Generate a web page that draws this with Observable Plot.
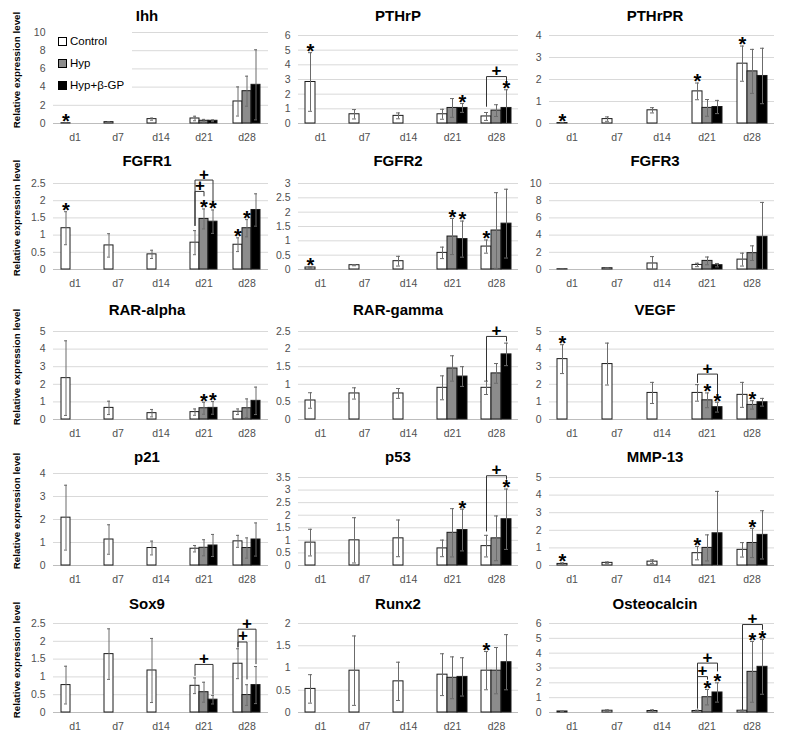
<!DOCTYPE html>
<html><head><meta charset="utf-8">
<script src="https://cdn.jsdelivr.net/npm/d3@7"></script>
<script src="https://cdn.jsdelivr.net/npm/@observablehq/plot@0.6"></script>
<style>
 body{margin:0;background:#fff;}
 #root{position:relative;width:786px;height:742px;overflow:hidden;background:#fff;font-family:"Liberation Sans",Arial,sans-serif;}
 .title{position:absolute;transform:translate(-50%,-50%);font-weight:bold;font-size:15px;white-space:nowrap;color:#000;}
 .ylab{position:absolute;transform:translate(-50%,-50%) rotate(-90deg);font-weight:bold;font-size:9.8px;white-space:nowrap;color:#000;}
 .legend{position:absolute;background:#fff;}
 .legend div{position:absolute;white-space:nowrap;font-size:11.5px;color:#000;}
 .legend span{display:inline-block;width:7px;height:7px;border:1px solid #000;margin-right:3px;vertical-align:-1px;}
</style></head><body><div id="root"></div>
<script>
// ---------------- data ----------------
const genes = ["Ihh","PTHrP","PTHrPR","FGFR1","FGFR2","FGFR3","RAR-alpha","RAR-gamma","VEGF","p21","p53","MMP-13","Sox9","Runx2","Osteocalcin"];
const days = ["d1","d7","d14","d21","d28"];
const lateDays = ["d21","d28"];
const groups = ["Control","Hyp","Hyp+β-GP"];
const groupColors = ["#ffffff","#8c8c8c","#000000"];
const yMax  = [10,6,4, 2.5,3,10, 5,2.5,5, 4,3.5,5, 2.5,2,6];
const yStep = [2,1,1, 0.5,0.5,2, 1,0.5,1, 1,0.5,1, 0.5,0.5,1];

// Control: d1, d7, d14, d21, d28
const controlMean = [
 [0.03,0.15,0.48,0.55,2.42],
 [2.83,0.63,0.52,0.63,0.48],
 [0.02,0.2,0.6,1.46,2.72],
 [1.2,0.7,0.44,0.78,0.72],
 [0.07,0.15,0.29,0.58,0.8],
 [0.03,0.15,0.7,0.53,1.15],
 [2.35,0.66,0.36,0.42,0.44],
 [0.54,0.74,0.74,0.9,0.9],
 [3.43,3.15,1.51,1.51,1.4],
 [2.08,1.13,0.76,0.73,1.05],
 [0.91,1.0,1.08,0.68,0.77],
 [0.09,0.15,0.22,0.7,0.89],
 [0.77,1.64,1.18,0.75,1.37],
 [0.53,0.94,0.7,0.85,0.94],
 [0.07,0.12,0.1,0.1,0.12]
];
const controlSD = [
 [0.02,0.04,0.12,0.25,1.6],
 [2.0,0.32,0.2,0.34,0.27],
 [0.01,0.1,0.12,0.38,0.8],
 [0.48,0.34,0.12,0.35,0.2],
 [0.02,0.02,0.17,0.2,0.23],
 [0.01,0.03,0.8,0.2,0.75],
 [2.12,0.38,0.21,0.18,0.16],
 [0.22,0.16,0.14,0.34,0.19],
 [0.82,1.19,0.6,0.47,0.71],
 [1.41,0.64,0.3,0.14,0.26],
 [0.53,0.9,0.73,0.33,0.43],
 [0.06,0.05,0.1,0.38,0.41],
 [0.53,0.71,0.9,0.22,0.42],
 [0.32,0.78,0.43,0.47,0.43],
 [0.02,0.06,0.08,0.06,0.03]
];
// Hyp: d21, d28
const hypMean = [[0.3,3.55],[1.06,0.88],[0.71,2.37],[1.47,1.2],[1.15,1.36],[1.0,1.9],[0.64,0.64],[1.45,1.31],[1.09,0.83],[0.77,0.76],[1.3,1.08],[1.0,1.28],[0.57,0.49],[0.78,0.94],[1.03,2.74]];
const hypSD   = [[0.15,1.65],[0.64,0.4],[0.38,1.0],[0.29,0.25],[0.63,1.32],[0.45,0.85],[0.34,0.53],[0.36,0.28],[0.42,0.24],[0.35,0.44],[0.96,0.89],[0.74,0.83],[0.28,0.29],[0.47,0.52],[0.52,2.05]];
// Hyp+β-GP: d21, d28
const hypGPMean = [[0.3,4.25],[1.06,1.06],[0.75,2.16],[1.39,1.73],[1.06,1.6],[0.5,3.8],[0.66,1.06],[1.22,1.85],[0.7,0.98],[0.87,1.13],[1.41,1.84],[1.83,1.74],[0.36,0.77],[0.8,1.13],[1.35,3.08]];
const hypGPSD   = [[0.1,3.85],[0.3,1.24],[0.3,1.26],[0.34,0.47],[0.63,1.2],[0.2,4.0],[0.36,0.78],[0.28,0.32],[0.28,0.22],[0.48,0.72],[0.83,1.2],[2.38,1.37],[0.12,0.52],[0.43,0.62],[0.65,1.85]];

// significance asterisks: gene, day, group
const stars = [
 ["Ihh","d1","Control"],
 ["PTHrP","d1","Control"],["PTHrP","d21","Hyp+β-GP"],["PTHrP","d28","Hyp+β-GP"],
 ["PTHrPR","d1","Control"],["PTHrPR","d21","Control"],["PTHrPR","d28","Control"],
 ["FGFR1","d1","Control"],["FGFR1","d21","Hyp"],["FGFR1","d21","Hyp+β-GP"],["FGFR1","d28","Control"],["FGFR1","d28","Hyp"],
 ["FGFR2","d1","Control"],["FGFR2","d21","Hyp"],["FGFR2","d21","Hyp+β-GP"],["FGFR2","d28","Control"],
 ["RAR-alpha","d21","Hyp"],["RAR-alpha","d21","Hyp+β-GP"],
 ["VEGF","d1","Control"],["VEGF","d21","Hyp"],["VEGF","d21","Hyp+β-GP"],["VEGF","d28","Hyp"],
 ["p53","d21","Hyp+β-GP"],["p53","d28","Hyp+β-GP"],
 ["MMP-13","d1","Control"],["MMP-13","d21","Control"],["MMP-13","d28","Hyp"],
 ["Runx2","d28","Control"],
 ["Osteocalcin","d21","Hyp"],["Osteocalcin","d21","Hyp+β-GP"],["Osteocalcin","d28","Hyp"],["Osteocalcin","d28","Hyp+β-GP"]
];
// "+" brackets: gene, day, from, to, top value, left end value, right end value
const brackets = [
 ["PTHrP","d28","Control","Hyp+β-GP",3.2,1.17,2.85],
 ["FGFR1","d21","Control","Hyp",2.27,1.28,2.14],
 ["FGFR1","d21","Control","Hyp+β-GP",2.6,1.28,1.95],
 ["RAR-gamma","d28","Control","Hyp+β-GP",2.36,1.1,2.23],
 ["VEGF","d21","Control","Hyp+β-GP",2.58,2.1,1.45],
 ["p53","d28","Control","Hyp+β-GP",3.57,1.37,3.43],
 ["Sox9","d21","Control","Hyp+β-GP",1.35,1.04,0.52],
 ["Sox9","d28","Control","Hyp",1.98,1.84,0.94],
 ["Sox9","d28","Control","Hyp+β-GP",2.34,1.84,1.37],
 ["Osteocalcin","d21","Control","Hyp",2.42,0.3,2.24],
 ["Osteocalcin","d21","Control","Hyp+β-GP",3.33,0.3,2.8],
 ["Osteocalcin","d28","Control","Hyp+β-GP",5.93,0.2,5.6]
];

// ---------------- layout ----------------
const plotTop = [32,35,35, 183,183,183, 331,331,331, 473,477,477, 623,623,623];
const rowBottom = [123,269,419,565,712];
const colLeft = [51,298,547];
const colWidth = [218,220,228];
const titleX = [147,398,655];
const titleY = [15,160,309,456,603];

const root = document.getElementById("root");
const font = "'Liberation Sans', Arial, sans-serif";

genes.forEach((gene, gi) => {
  const col = gi % 3, row = Math.floor(gi / 3);
  const rows = [];
  days.forEach((day, di) => rows.push({day, group: groups[0], mean: controlMean[gi][di], sd: controlSD[gi][di]}));
  lateDays.forEach((day, k) => {
    rows.push({day, group: groups[1], mean: hypMean[gi][k], sd: hypSD[gi][k]});
    rows.push({day, group: groups[2], mean: hypGPMean[gi][k], sd: hypGPSD[gi][k]});
  });
  const find = (day, group) => rows.find(r => r.day === day && r.group === group);
  const starRows = stars.filter(s => s[0] === gene).map(s => find(s[1], s[2]));
  const br = brackets.filter(b => b[0] === gene).map((b, i) => ({id: i, day: b[1], from: b[2], to: b[3], top: b[4], lo1: b[5], lo2: b[6]}));
  const brPts = br.flatMap(b => [
    {id: b.id, day: b.day, group: b.from, y: b.lo1},
    {id: b.id, day: b.day, group: b.from, y: b.top},
    {id: b.id, day: b.day, group: b.to, y: b.top},
    {id: b.id, day: b.day, group: b.to, y: b.lo2}
  ]);
  const plusWhole = [], plusHalf = [];
  br.forEach(b => {
    const s = groups.indexOf(b.from) + groups.indexOf(b.to);
    if (s % 2 === 0) plusWhole.push({day: b.day, group: groups[s / 2], top: b.top});
    else plusHalf.push({day: b.day, group: groups[(s - 1) / 2], top: b.top});
  });

  const ticks = d3.range(0, yMax[gi] + yStep[gi] / 2, yStep[gi]);
  const mT = 30, mB = 30, mL = 44, mR = 6;
  const w = colWidth[col], h = rowBottom[row] - plotTop[gi];
  const errColor = "#6b6b6b";
  const txt = {fx: "day", x: "group", fontFamily: font, fontWeight: "bold", fill: "#000"};
  const svg = Plot.plot({
    width: w + mL + mR, height: h + mT + mB,
    marginLeft: mL, marginRight: mR, marginTop: mT, marginBottom: mB,
    style: {fontFamily: font, fontSize: "10.5px", color: "#505050", background: "transparent", overflow: "visible"},
    fx: {domain: days, padding: 0, label: null, axis: "bottom", tickSize: 0, tickPadding: 10},
    x: {domain: groups, axis: null, paddingInner: 0, paddingOuter: 0.7},
    y: {domain: [0, yMax[gi]], ticks, tickFormat: d => String(+d.toFixed(2)), tickSize: 0, tickPadding: 8, label: null},
    color: {domain: groups, range: groupColors},
    marks: [
      Plot.ruleY(ticks.filter(t => t > 0), {stroke: "#d9d9d9"}),
      Plot.ruleY([0], {stroke: "#bdbdbd"}),
      Plot.barY(rows, {fx: "day", x: "group", y: "mean", fill: "group", stroke: "#1a1a1a", strokeWidth: 1}),
      Plot.ruleX(rows, {fx: "day", x: "group", y1: d => Math.max(0, d.mean - d.sd), y2: d => d.mean + d.sd, stroke: errColor}),
      Plot.tickY(rows, {fx: "day", x: "group", y: d => d.mean + d.sd, stroke: errColor, insetLeft: 3, insetRight: 3}),
      Plot.tickY(rows.filter(d => d.mean - d.sd > 0), {fx: "day", x: "group", y: d => d.mean - d.sd, stroke: errColor, insetLeft: 3, insetRight: 3}),
      Plot.line(brPts, {fx: "day", x: "group", y: "y", z: "id", stroke: "#333", strokeWidth: 1}),
      Plot.text(starRows, {...txt, y: d => d.mean + d.sd, text: () => "*", fontSize: 20, dy: -1}),
      Plot.text(plusWhole, {...txt, y: "top", text: () => "+", fontSize: 17, dy: -6}),
      Plot.text(plusHalf, {...txt, y: "top", text: () => "+", fontSize: 17, dy: -6, dx: 5})
    ]
  });
  svg.style.position = "absolute";
  svg.style.left = (colLeft[col] - mL) + "px";
  svg.style.top = (plotTop[gi] - mT) + "px";
  root.appendChild(svg);

  const t = document.createElement("div");
  t.className = "title";
  t.textContent = gene;
  t.style.left = titleX[col] + "px";
  t.style.top = titleY[row] + "px";
  root.appendChild(t);

  if (col === 0) {
    const yl = document.createElement("div");
    yl.className = "ylab";
    yl.textContent = "Relative expression level";
    yl.style.left = "16px";
    yl.style.top = ((plotTop[gi] + rowBottom[row]) / 2 - 8) + "px";
    root.appendChild(yl);
  }
});

// legend (inside the Ihh panel)
const lg = document.createElement("div");
lg.className = "legend";
lg.style.left = "51px"; lg.style.top = "32px"; lg.style.width = "81px"; lg.style.height = "66px";
groups.forEach((g, i) => {
  const e = document.createElement("div");
  e.style.left = "7px";
  e.style.top = (3 + i * 22) + "px";
  const sw = document.createElement("span");
  sw.style.background = groupColors[i];
  e.appendChild(sw);
  e.appendChild(document.createTextNode(g));
  lg.appendChild(e);
});
root.appendChild(lg);
</script></body></html>
